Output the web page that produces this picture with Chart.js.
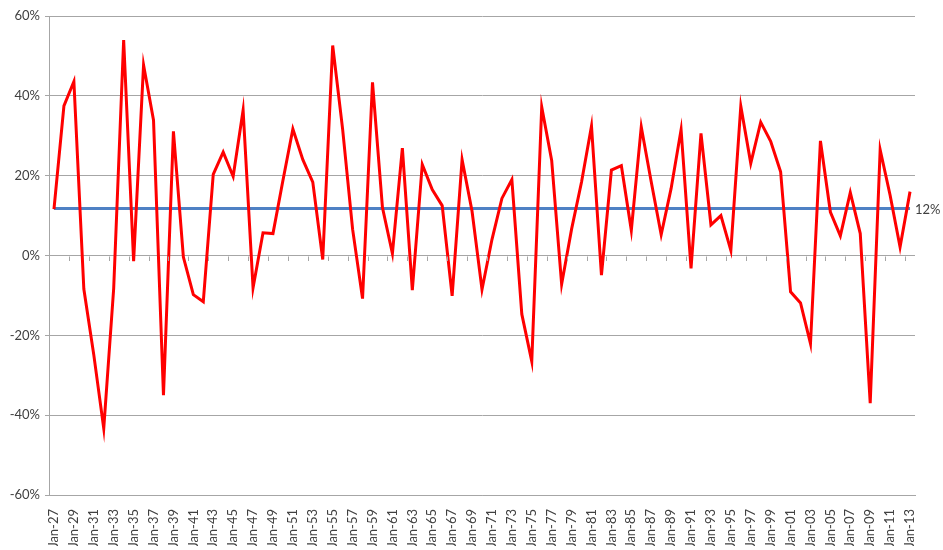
<!DOCTYPE html>
<html>
<head>
<meta charset="utf-8">
<script src="https://cdn.jsdelivr.net/npm/chart.js@4.4.0/dist/chart.umd.min.js"></script>
<style>
  html, body { margin: 0; padding: 0; background: #ffffff; }
  #wrap { width: 943px; height: 550px; position: relative; }
</style>
</head>
<body>
<div id="wrap"><canvas id="c"></canvas></div>
<script>
const categories = ["Jan-27","Jan-28","Jan-29","Jan-30","Jan-31","Jan-32","Jan-33","Jan-34","Jan-35","Jan-36","Jan-37","Jan-38","Jan-39","Jan-40","Jan-41","Jan-42","Jan-43","Jan-44","Jan-45","Jan-46","Jan-47","Jan-48","Jan-49","Jan-50","Jan-51","Jan-52","Jan-53","Jan-54","Jan-55","Jan-56","Jan-57","Jan-58","Jan-59","Jan-60","Jan-61","Jan-62","Jan-63","Jan-64","Jan-65","Jan-66","Jan-67","Jan-68","Jan-69","Jan-70","Jan-71","Jan-72","Jan-73","Jan-74","Jan-75","Jan-76","Jan-77","Jan-78","Jan-79","Jan-80","Jan-81","Jan-82","Jan-83","Jan-84","Jan-85","Jan-86","Jan-87","Jan-88","Jan-89","Jan-90","Jan-91","Jan-92","Jan-93","Jan-94","Jan-95","Jan-96","Jan-97","Jan-98","Jan-99","Jan-00","Jan-01","Jan-02","Jan-03","Jan-04","Jan-05","Jan-06","Jan-07","Jan-08","Jan-09","Jan-10","Jan-11","Jan-12","Jan-13"];

const annualReturns = [11.6, 37.5, 43.6, -8.4, -24.9, -43.3, -8.2, 54.0, -1.4, 47.7,
  33.9, -35.0, 31.1, -0.4, -9.8, -11.6, 20.3, 25.9, 19.8, 36.4,
  -8.1, 5.7, 5.5, 18.8, 31.7, 24.0, 18.4, -1.0, 52.6, 31.6,
  6.6, -10.8, 43.4, 12.0, 0.5, 26.9, -8.7, 22.8, 16.5, 12.5,
  -10.1, 24.0, 11.1, -8.5, 4.0, 14.3, 19.0, -14.7, -26.5, 37.2,
  23.8, -7.2, 6.6, 18.4, 32.4, -4.9, 21.4, 22.5, 6.3, 32.2,
  18.5, 5.2, 16.8, 31.5, -3.2, 30.6, 7.7, 10.0, 1.3, 37.4,
  23.1, 33.4, 28.6, 21.0, -9.1, -11.9, -22.1, 28.7, 10.9, 4.9,
  15.8, 5.5, -37.0, 26.5, 15.1, 2.1, 16.0];

const averageReturn = 11.8;
const averageLabel = "12%";
const yTicks = { min: -60, max: 60, step: 20 };

const FONT = "Lato, 'Liberation Sans', sans-serif";
const TEXT = "#404040";
const GRID = "#a6a6a6";

const averageSeries = categories.map(() => averageReturn);

const decorPlugin = {
  id: 'decor',
  afterDatasetsDraw(chart) {
    const ctx = chart.ctx;
    const x = chart.scales.x, y = chart.scales.y;
    // small category tick marks on the 0% line
    const y0 = y.getPixelForValue(0);
    ctx.save();
    ctx.strokeStyle = GRID;
    ctx.lineWidth = 1;
    ctx.beginPath();
    for (let i = 2; i < categories.length; i += 2) {
      const bx = Math.round((x.getPixelForValue(i - 1) + x.getPixelForValue(i)) / 2) + 0.5;
      ctx.moveTo(bx, Math.round(y0) + 0.5);
      ctx.lineTo(bx, Math.round(y0) + 5);
    }
    ctx.stroke();
    // label at the right end of the average line
    const yl = y.getPixelForValue(averageReturn);
    ctx.fillStyle = TEXT;
    ctx.font = "13px " + FONT;
    ctx.textAlign = 'left';
    ctx.textBaseline = 'middle';
    ctx.fillText(averageLabel, chart.chartArea.right, yl + 1);
    ctx.restore();
  }
};

const chart = new Chart(document.getElementById('c'), {
  type: 'line',
  data: {
    labels: categories,
    datasets: [
      {
        label: 'Annual return',
        data: annualReturns,
        borderColor: '#ff0000',
        borderWidth: 3,
        pointRadius: 0,
        tension: 0,
        order: 1
      },
      {
        label: 'Average',
        data: averageSeries,
        borderColor: '#4f81c4',
        borderWidth: 3,
        pointRadius: 0,
        tension: 0,
        order: 2
      }
    ]
  },
  options: {
    responsive: true,
    maintainAspectRatio: false,
    animation: false,
    devicePixelRatio: 1,
    layout: { padding: { left: 0, right: 28, top: 16, bottom: 4 } },
    plugins: {
      legend: { display: false },
      tooltip: { enabled: false }
    },
    scales: {
      x: {
        offset: true,
        grid: { display: false },
        border: { display: true, color: GRID },
        ticks: {
          autoSkip: false,
          maxRotation: 90,
          minRotation: 90,
          color: TEXT,
          padding: 6,
          font: { family: FONT, size: 13 },
          callback: function (v, i) { return i % 2 === 0 ? categories[i] : ''; }
        },
        afterFit(scale) { scale.height = 51; }
      },
      y: {
        min: yTicks.min,
        max: yTicks.max,
        grid: { color: GRID, lineWidth: 1, tickLength: 4, drawTicks: true },
        border: { display: true, color: GRID },
        ticks: {
          stepSize: yTicks.step,
          color: TEXT,
          padding: 5,
          font: { family: FONT, size: 13 },
          callback: (v) => v + '%'
        },
        afterFit(scale) { scale.width = 49; }
      }
    }
  },
  plugins: [decorPlugin]
});
</script>
</body>
</html>
